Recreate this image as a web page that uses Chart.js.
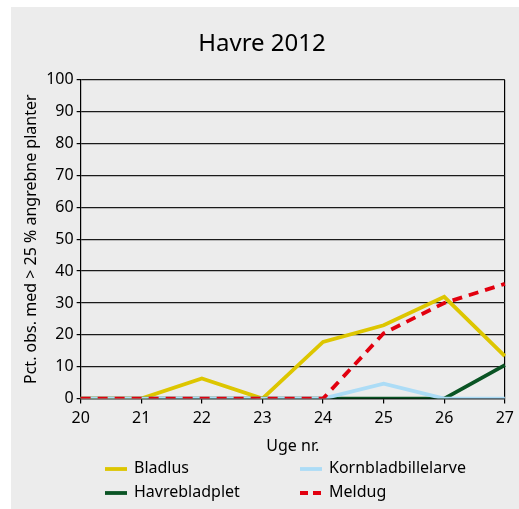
<!DOCTYPE html>
<html>
<head>
<meta charset="utf-8">
<script src="https://cdn.jsdelivr.net/npm/chart.js@4"></script>
<style>
    html, body { margin: 0; padding: 0; background: #fff; }
    #panel { position: absolute; left: 11px; top: 7px; width: 508px; height: 502px; background: #ececec; }
    #chart { position: absolute; left: 0; top: 0; }
    #legend { position: absolute; left: 0; top: 448px; width: 508px; font-family: "Noto Sans", sans-serif; font-size: 16px; color: #000; }
    .item { position: absolute; height: 24px; line-height: 24px; white-space: nowrap; }
    .item svg { vertical-align: middle; margin-right: 7px; }
</style>
</head>
<body>
<div id="panel">
    <canvas id="chart" width="508" height="502"></canvas>
    <div id="legend"></div>
</div>
<script>
const weeks = ['20', '21', '22', '23', '24', '25', '26', '27'];
const bladlus = [0, 0, 6.3, 0, 17.8, 23, 31.9, 13.3];
const kornbladbillelarve = [0, 0, 0, 0, 0, 4.7, 0, 0];
const havrebladplet = [0, 0, 0, 0, 0, 0, 0, 10.5];
const meldug = [0, 0, 0, 0, 0, 20.5, 30, 36];

const FONT = '"Noto Sans", sans-serif';

const series = [
    { label: 'Bladlus', data: bladlus, color: '#ddc600', dash: [] },
    { label: 'Kornbladbillelarve', data: kornbladbillelarve, color: '#acdcf6', dash: [] },
    { label: 'Havrebladplet', data: havrebladplet, color: '#0a5424', dash: [] },
    { label: 'Meldug', data: meldug, color: '#e2000f', dash: [10, 7] }
];

// draw order: havrebladplet under kornbladbille, meldug on top
const drawOrder = { 'Bladlus': 3, 'Kornbladbillelarve': 1, 'Havrebladplet': 2, 'Meldug': 0 };

new Chart(document.getElementById('chart'), {
    type: 'line',
    data: {
        labels: weeks,
        datasets: series.map(s => ({
            label: s.label,
            data: s.data,
            borderColor: s.color,
            backgroundColor: s.color,
            borderWidth: 3.8,
            borderDash: s.dash,
            pointRadius: 0,
            tension: 0,
            order: drawOrder[s.label]
        }))
    },
    options: {
        responsive: false,
        animation: false,
        layout: { padding: { left: 7, right: 13, top: 23, bottom: 49 } },
        plugins: {
            legend: { display: false },
            tooltip: { enabled: false },
            title: {
                display: true,
                text: 'Havre 2012',
                color: '#000',
                font: { family: FONT, size: 24, weight: 'normal' },
                padding: { top: 0, bottom: 21 }
            }
        },
        scales: {
            x: {
                offset: false,
                grid: {
                    color: ctx => ctx.index === weeks.length - 1 ? '#000' : 'transparent',
                    tickColor: '#000',
                    tickLength: 5,
                    lineWidth: 1.2
                },
                border: { color: '#000', width: 1.2 },
                ticks: { color: '#000', font: { family: FONT, size: 16 }, padding: 5, maxRotation: 0 },
                title: { display: true, text: 'Uge nr.', color: '#000', font: { family: FONT, size: 16 }, padding: { top: 4 } }
            },
            y: {
                min: 0,
                max: 100,
                ticks: { stepSize: 10, color: '#000', font: { family: FONT, size: 16 }, padding: 3 },
                grid: { color: '#1a1a1a', tickColor: '#000', tickLength: 4, lineWidth: 1.2 },
                border: { color: '#000', width: 1.2 },
                title: { display: true, text: 'Pct. obs. med > 25 % angrebne planter', color: '#000', font: { family: FONT, size: 16 }, padding: { bottom: 2 } }
            }
        }
    }
});

// legend, two columns
const legend = document.getElementById('legend');
const slots = [
    { s: series[0], x: 94, y: 0 },
    { s: series[1], x: 289, y: 0 },
    { s: series[2], x: 94, y: 24 },
    { s: series[3], x: 289, y: 24 }
];
slots.forEach(({ s, x, y }) => {
    const div = document.createElement('div');
    div.className = 'item';
    div.style.left = x + 'px';
    div.style.top = y + 'px';
    const dash = s.dash.length ? 'stroke-dasharray="8 5"' : '';
    div.innerHTML = `<svg width="22" height="6"><line x1="0" y1="3" x2="22" y2="3" stroke="${s.color}" stroke-width="3.8" ${dash}/></svg>` + s.label;
    legend.appendChild(div);
});
</script>
</body>
</html>
